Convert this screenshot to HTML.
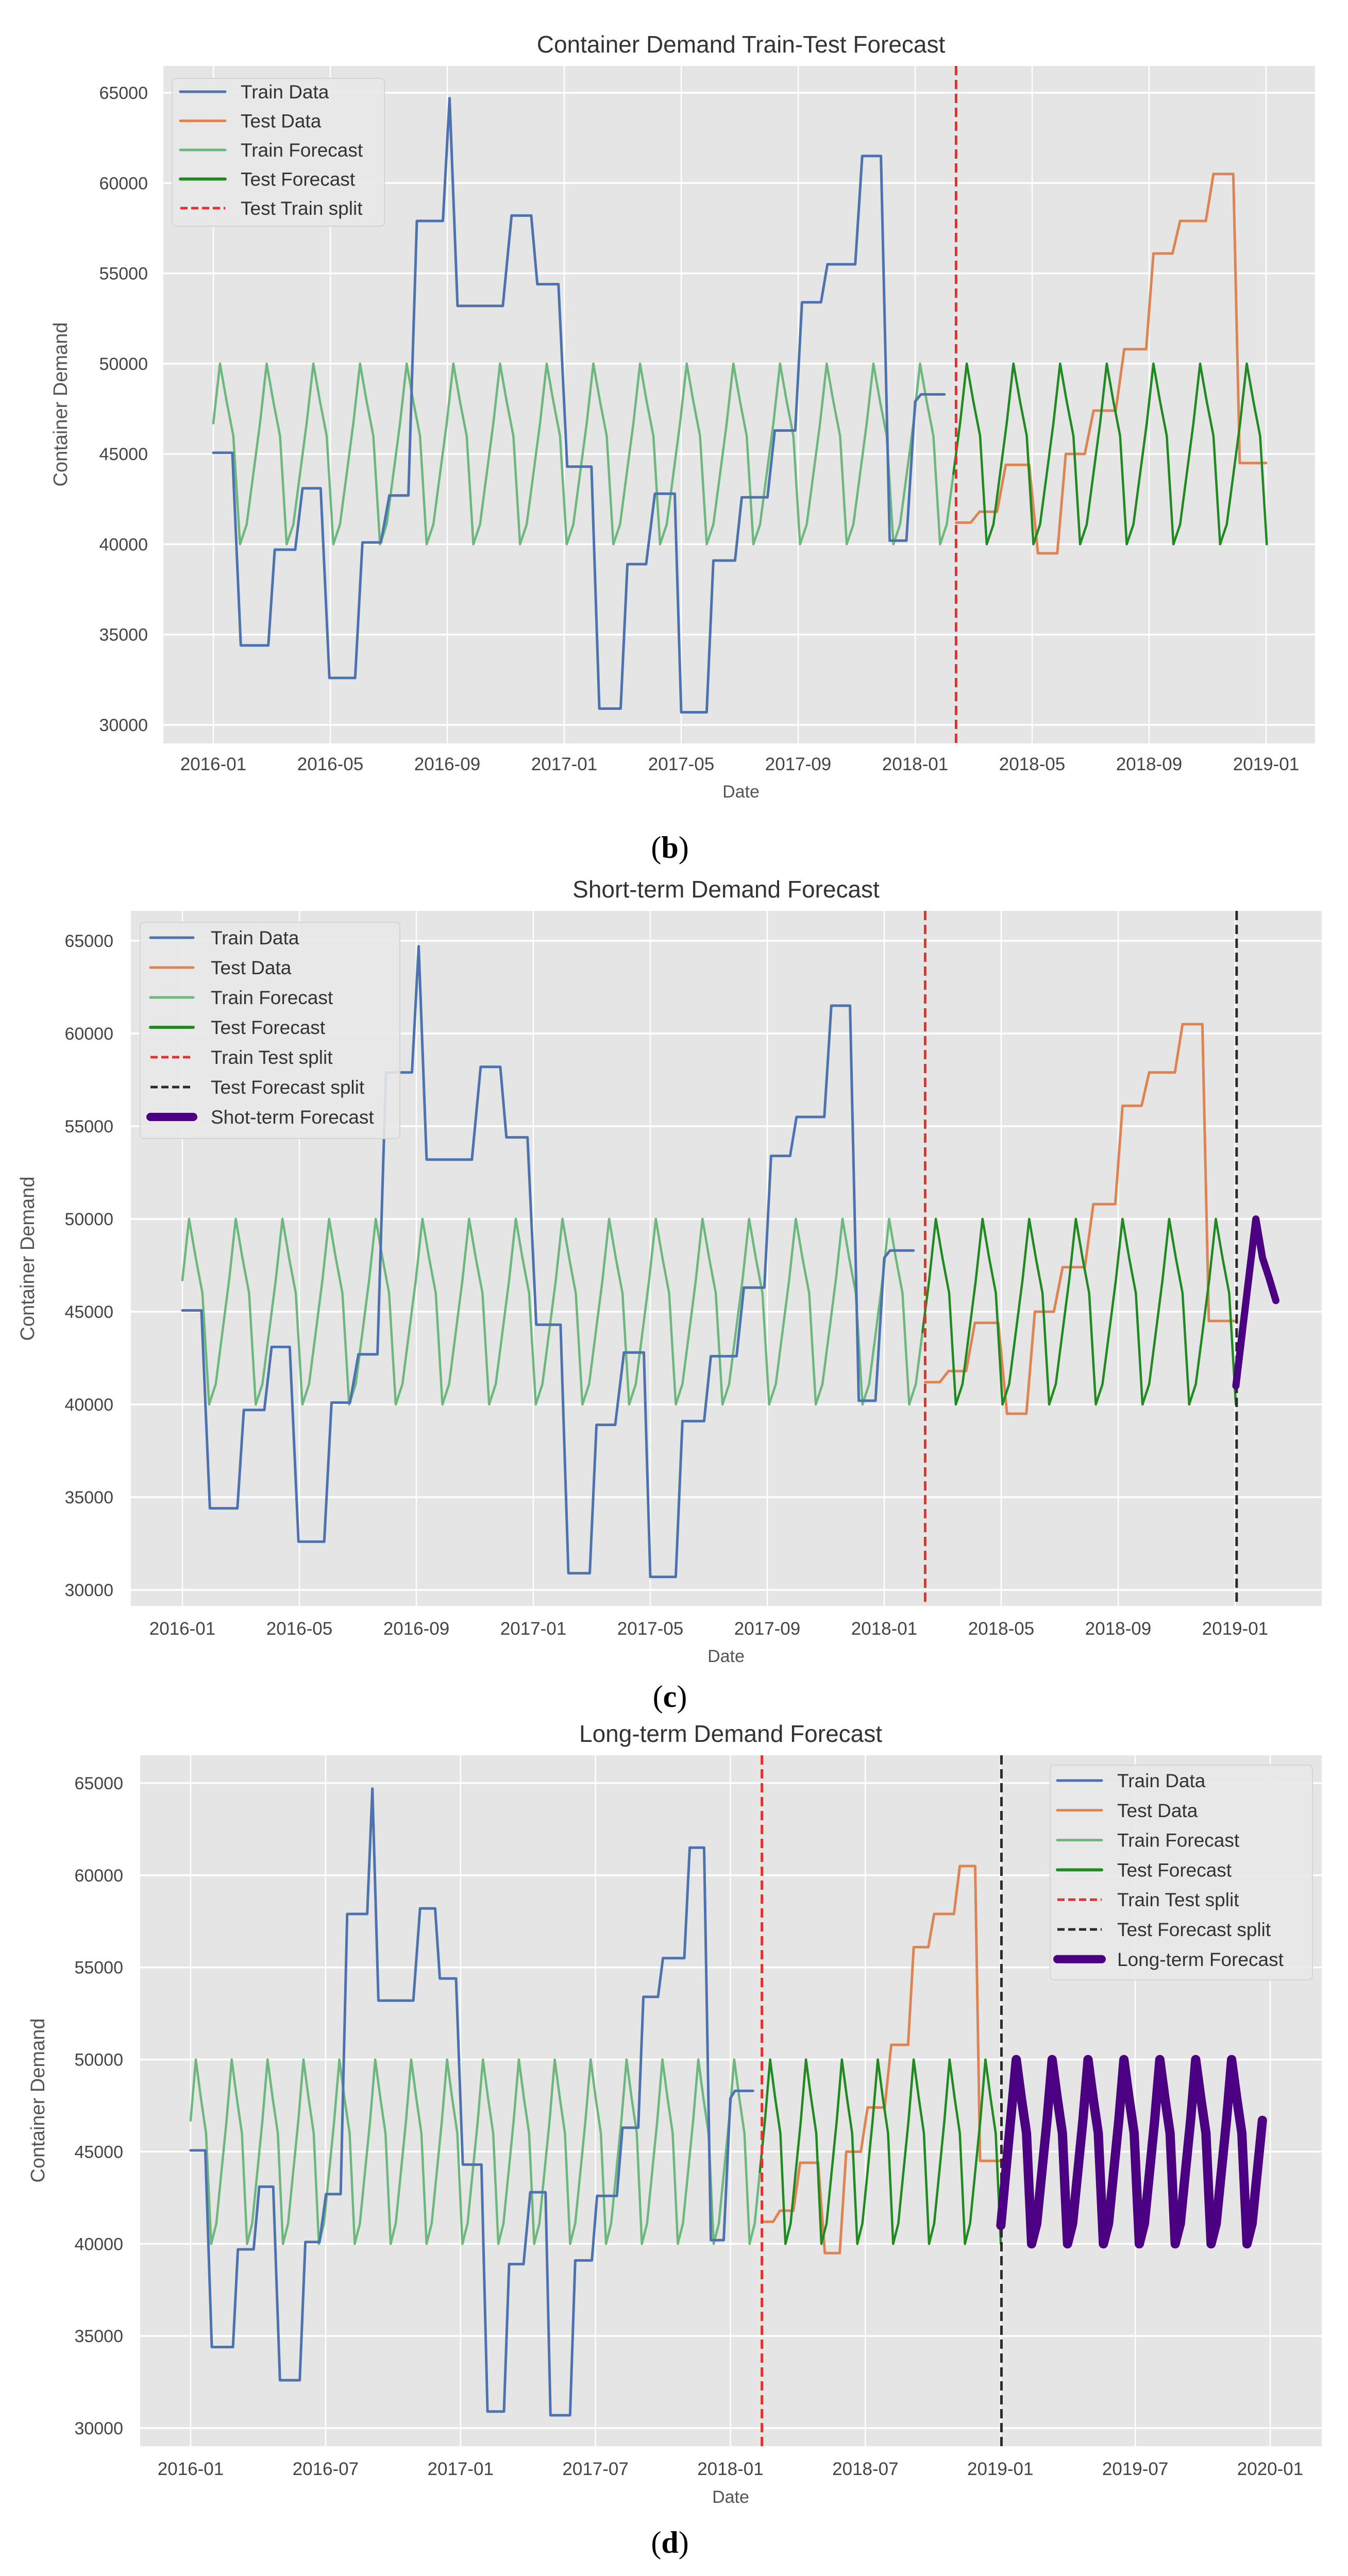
<!DOCTYPE html>
<html><head><meta charset="utf-8"><style>
html,body{margin:0;padding:0;background:#fff;width:2616px;height:5016px;overflow:hidden}
svg{display:block}
text{font-family:"Liberation Sans",sans-serif}
</style></head>
<body>
<svg id="fig" width="2616" height="5016" viewBox="0 0 2616 5016" xmlns="http://www.w3.org/2000/svg"></svg>
<script>
// ---- data (months since 2016-01) ----
const trainX=[0,0.65,0.94,1.88,2.1,2.8,3.05,3.67,3.97,4.85,5.1,5.73,6.02,6.67,6.96,7.85,8.08,8.35,9.9,10.2,10.87,11.08,11.8,12.1,12.93,13.2,13.93,14.16,14.8,15.1,15.78,16.0,16.87,17.1,17.84,18.07,18.95,19.2,19.9,20.13,20.78,21.0,21.95,22.19,22.83,23.13,23.7,24.0,24.2,25.0];
const trainY=[45070,45070,34400,34400,39700,39700,43100,43100,32600,32600,40100,40100,42700,42700,57900,57900,64700,53200,53200,58200,58200,54400,54400,44300,44300,30900,30900,38900,38900,42800,42800,30700,30700,39100,39100,42600,42600,46300,46300,53400,53400,55500,55500,61500,61500,40200,40200,47900,48300,48300];
const testX=[25.4,25.9,26.2,26.8,27.1,27.9,28.2,28.86,29.15,29.8,30.1,30.86,31.15,31.9,32.15,32.8,33.06,33.94,34.2,34.88,35.1,36];
const testY=[41200,41200,41800,41800,44400,44400,39500,39500,45000,45000,47400,47400,50800,50800,56100,56100,57900,57900,60500,60500,44500,44500];
// weekly forecast samples
const trainForecast=[46700,
50000,47900,46000,40000,41100,43900,46700, 50000,47900,46000,40000,41100,43900,46700,
50000,47900,46000,40000,41100,43900,46700, 50000,47900,46000,40000,41100,43900,46700,
50000,47900,46000,40000,41100,43900,46700, 50000,47900,46000,40000,41100,43900,46700,
50000,47900,46000,40000,41100,43900,46700, 50000,47900,46000,40000,41100,43900,46700,
50000,47900,46000,40000,41100,43900,46700, 50000,47900,46000,40000,41100,43900,46700,
50000,47900,46000,40000,41100,43900,46700, 50000,47900,46000,40000,41100,43900,46700,
50000,47900,46000,40000,41100,43900,46700, 50000,47900,46000,40000,41100,43900,46700,
50000,47900,46000,40000,41100,43900,46700,
50000,47900,46000,40000,41100,43900];
const testForecast=[43900,46700,
50000,47900,46000,40000,41100,43900,46700, 50000,47900,46000,40000,41100,43900,46700,
50000,47900,46000,40000,41100,43900,46700, 50000,47900,46000,40000,41100,43900,46700,
50000,47900,46000,40000,41100,43900,46700, 50000,47900,46000,40000,41100,43900,46700,
50000,47900,46000,40000];
const shortForecast=[41000,44000,47000,50000,47900,46800,45600];
const longForecast=[41000,44000,47000,
50000,47900,46000,40000,41100,43900,46700, 50000,47900,46000,40000,41100,43900,46700,
50000,47900,46000,40000,41100,43900,46700, 50000,47900,46000,40000,41100,43900,46700,
50000,47900,46000,40000,41100,43900,46700, 50000,47900,46000,40000,41100,43900,46700,
50000,47900,46000,40000,41100,43900,46700];
const trainTestSplit=25.4;
const testForecastSplit=36.05;
const yTicks=[30000,35000,40000,45000,50000,55000,60000,65000];
const xTicksBC=[0,4,8,12,16,20,24,28,32,36];
const xLabelsBC=["2016-01","2016-05","2016-09","2017-01","2017-05","2017-09","2018-01","2018-05","2018-09","2019-01"];
const xTicksD=[0,6,12,18,24,30,36,42,48];
const xLabelsD=["2016-01","2016-07","2017-01","2017-07","2018-01","2018-07","2019-01","2019-07","2020-01"];
const WEEK=0.228, TRAIN_START=0, TEST_START=111, FC_START=158;

const NS="http://www.w3.org/2000/svg";
const svg=document.getElementById('fig');
function mk(tag,attrs,parent){const e=document.createElementNS(NS,tag);for(const k in attrs)e.setAttribute(k,attrs[k]);(parent||svg).appendChild(e);return e;}

const panels=[
 {id:'b',title:'Container Demand Train-Test Forecast',px:317,py:128,pw:2235,ph:1315,m0:414,m1:2457,mspan:36,v0y:180,v1y:1407,
  xt:xTicksBC,xl:xLabelsBC,tickY:1495,dateY:1548,ylx:130,yly:785,ytx:287,titleY:102,titleX:1438,capY:1665,
  legend:{x:334,y:152,w:412,h:287,ly:178,dy:56.5,lx0:350,lx1:437,tx:467},
  labels:['Train Data','Test Data','Train Forecast','Test Forecast','Test Train split'],extra:null},
 {id:'c',title:'Short-term Demand Forecast',px:254,py:1768,pw:2311,ph:1349,m0:354,m1:2397,mspan:36,v0y:1826,v1y:3086,
  xt:xTicksBC,xl:xLabelsBC,tickY:3173,dateY:3226,ylx:66,yly:2443,ytx:220,titleY:1742,titleX:1409,capY:3313,
  legend:{x:272,y:1790,w:504,h:420,ly:1820,dy:58,lx0:292,lx1:375,tx:409},
  labels:['Train Data','Test Data','Train Forecast','Test Forecast','Train Test split','Test Forecast split','Shot-term Forecast'],extra:'short'},
 {id:'d',title:'Long-term Demand Forecast',px:272,py:3407,pw:2293,ph:1341,m0:370,m1:2465,mspan:48,v0y:3461,v1y:4713,
  xt:xTicksD,xl:xLabelsD,tickY:4804,dateY:4858,ylx:86,yly:4077,ytx:239,titleY:3381,titleX:1418,capY:4955,
  legend:{x:2038,y:3426,w:509,h:417,ly:3456,dy:57.8,lx0:2052,lx1:2138,tx:2168},
  labels:['Train Data','Test Data','Train Forecast','Test Forecast','Train Test split','Test Forecast split','Long-term Forecast'],extra:'long'}
];
const C={train:'#4c72b0',test:'#dd8452',trainF:'#6cb87c',testF:'#1f8a1f',red:'#e8302a',black:'#2a2a2a',purple:'#4b0082'};

panels.forEach(p=>{
  const g=mk('g',{});
  
  
  const X=m=>p.m0+(m)*(p.m1-p.m0)/p.mspan;
  const Y=v=>p.v1y+(v-30000)*(p.v0y-p.v1y)/35000;
  const clipId='clip'+p.id;
  const cp=mk('clipPath',{id:clipId},g);mk('rect',{x:p.px,y:p.py,width:p.pw,height:p.ph},cp);
  const bg=mk('rect',{x:p.px,y:p.py,width:p.pw,height:p.ph,fill:'#e5e5e5'},g);
  
  
  const t=mk('text',{x:p.titleX,y:p.titleY,'text-anchor':'middle','font-size':46,fill:'#333'},g);t.textContent=p.title;
  
  
  yTicks.forEach(v=>{
    mk('line',{x1:p.px,x2:p.px+p.pw,y1:Y(v),y2:Y(v),stroke:'#fff','stroke-width':3.5},g);
    const tl=mk('text',{x:p.ytx,y:Y(v)+12,'text-anchor':'end','font-size':34,fill:'#444'},g);tl.textContent=v;
    
    
  });
  p.xt.forEach((m,i)=>{
    mk('line',{x1:X(m),x2:X(m),y1:p.py,y2:p.py+p.ph,stroke:'#fff','stroke-width':2.5},g);
    const tl=mk('text',{x:X(m),y:p.tickY,'text-anchor':'middle','font-size':35,fill:'#444'},g);tl.textContent=p.xl[i];
    
    
  });
  const dl=mk('text',{x:p.titleX,y:p.dateY,'text-anchor':'middle','font-size':34,fill:'#555'},g);dl.textContent='Date';
  
  
  const yl=mk('text',{x:p.ylx,y:p.yly,'text-anchor':'middle','font-size':38,fill:'#555',transform:`rotate(-90 ${p.ylx} ${p.yly})`},g);yl.textContent='Container Demand';
  
  
  const cap=mk('text',{x:1300,y:p.capY,'text-anchor':'middle','font-size':60,fill:'#000',style:'font-family:"Liberation Serif",serif'},g);
  cap.innerHTML=`(<tspan font-weight="bold">${p.id}</tspan>)`;
  
  

  const dg=mk('g',{'clip-path':`url(#${clipId})`},g);
  function poly(xs,ys,col,w,name){
    const pts=xs.map((x,i)=>X(x).toFixed(1)+','+Y(ys[i]).toFixed(1)).join(' ');
    const e=mk('polyline',{points:pts,fill:'none',stroke:col,'stroke-width':w,'stroke-linejoin':'round','stroke-linecap':'round'},dg);
    
    
    return e;
  }
  const wk=(arr,start)=>arr.map((_,i)=>(start+i)*WEEK);
  poly(wk(trainForecast,TRAIN_START),trainForecast,C.trainF,4.5,'train-forecast-line');
  poly(trainX,trainY,C.train,5,'train-data-line');
  poly(testX,testY,C.test,5,'test-data-line');
  poly(wk(testForecast,TEST_START),testForecast,C.testF,4.5,'test-forecast-line');
  const rs=mk('line',{x1:X(trainTestSplit),x2:X(trainTestSplit),y1:p.py,y2:p.py+p.ph,stroke:C.red,'stroke-width':5,'stroke-dasharray':'18 9'},dg);
  
  
  if(p.extra){
    const bs=mk('line',{x1:X(testForecastSplit),x2:X(testForecastSplit),y1:p.py,y2:p.py+p.ph,stroke:C.black,'stroke-width':5,'stroke-dasharray':'18 9'},dg);
    
    
    if(p.extra==='short') poly(wk(shortForecast,FC_START),shortForecast,C.purple,14,'short-term-forecast-line');
    else poly(wk(longForecast,FC_START),longForecast,C.purple,18,'long-term-forecast-line');
  }
  const L=p.legend;
  const lg=mk('g',{},g);
  
  
  mk('rect',{x:L.x,y:L.y,width:L.w,height:L.h,rx:8,fill:'#e8e8e8',stroke:'#d4d4d4','stroke-width':2,'fill-opacity':0.9},lg);
  const styles=[[C.train,5,null],[C.test,5,null],[C.trainF,5,null],[C.testF,6,null],[C.red,5,'14 7'],[C.black,5,'14 7'],[C.purple,16,null]];
  p.labels.forEach((lab,i)=>{
    const s=styles[i];const yy=L.ly+i*L.dy;
    const eg=mk('g',{},lg);
    
    
    const ln=mk('line',{x1:L.lx0,x2:L.lx1,y1:yy,y2:yy,stroke:s[0],'stroke-width':s[1],'stroke-linecap':s[2]?'butt':'round'},eg);
    if(s[2])ln.setAttribute('stroke-dasharray',s[2]);
    const tx=mk('text',{x:L.tx,y:yy+13,'font-size':37,fill:'#333'},eg);tx.textContent=lab;
  });
});
</script>
</body></html>
